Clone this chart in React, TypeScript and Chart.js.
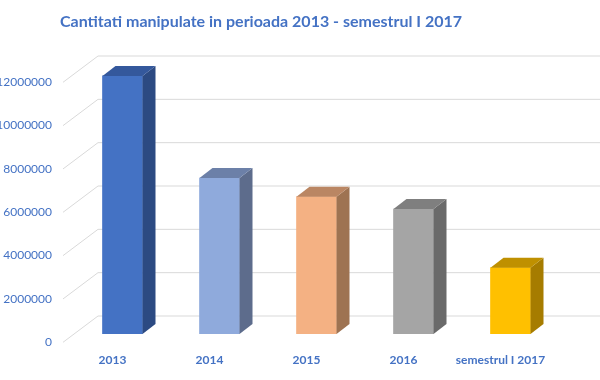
import React, { useEffect, useRef } from 'react';
import { Chart, registerables } from 'chart.js';

Chart.register(...registerables);

const categories = ['2013', '2014', '2015', '2016', 'semestrul I 2017'];
const quantities = [11910000, 7200000, 6340000, 5770000, 3060000];
const yTickLabels = ['0', '2000000', '4000000', '6000000', '8000000', '10000000', '12000000'];
const titleText = 'Cantitati manipulate in perioada 2013 - semestrul I 2017';

const frontColors = ['#4472C4', '#8FAADC', '#F4B183', '#A5A5A5', '#FFC000'];
const sideColors = ['#2C4A82', '#5D6C8C', '#9E7352', '#6A6A6A', '#A67C00'];
const topColors = ['#34589C', '#6C80A8', '#BA8663', '#7F7F7F', '#BF9000'];

const BLUE = '#4472C4';
const FONT = 'Lato, "Open Sans", sans-serif';
const DX = 13;
const DY = 10;

const wallPlugin = {
  id: 'wall',
  beforeDatasetsDraw(chart: any) {
    const ctx = chart.ctx;
    const y = chart.scales.y;
    ctx.save();
    ctx.strokeStyle = '#D9D9D9';
    ctx.lineWidth = 1;
    y.ticks.forEach((t: any) => {
      const py = y.getPixelForValue(t.value);
      ctx.beginPath();
      ctx.moveTo(63, py + 8.3);
      ctx.lineTo(98, py - 18);
      ctx.lineTo(chart.width, py - 18);
      ctx.stroke();
    });
    ctx.restore();
  },
};

const box3dPlugin = {
  id: 'box3d',
  afterDatasetsDraw(chart: any) {
    const ctx = chart.ctx;
    const meta = chart.getDatasetMeta(0);
    ctx.save();
    meta.data.forEach((bar: any, i: number) => {
      const p = bar.getProps(['x', 'y', 'base', 'width'], true);
      const l = p.x - p.width / 2;
      const r = p.x + p.width / 2;
      const t = Math.min(p.y, p.base);
      const b = Math.max(p.y, p.base);
      ctx.fillStyle = sideColors[i];
      ctx.beginPath();
      ctx.moveTo(r, t);
      ctx.lineTo(r + DX, t - DY);
      ctx.lineTo(r + DX, b - DY);
      ctx.lineTo(r, b);
      ctx.closePath();
      ctx.fill();
      ctx.fillStyle = topColors[i];
      ctx.beginPath();
      ctx.moveTo(l, t);
      ctx.lineTo(l + DX, t - DY);
      ctx.lineTo(r + DX, t - DY);
      ctx.lineTo(r, t);
      ctx.closePath();
      ctx.fill();
    });
    ctx.restore();
  },
};

const titlePlugin = {
  id: 'customTitle',
  afterDraw(chart: any) {
    const ctx = chart.ctx;
    ctx.save();
    ctx.font = `bold 16px ${FONT}`;
    ctx.fillStyle = BLUE;
    ctx.textAlign = 'center';
    ctx.textBaseline = 'middle';
    ctx.fillText(titleText, 261, 22);
    ctx.restore();
  },
};

export default function App() {
  const ref = useRef<HTMLCanvasElement | null>(null);

  useEffect(() => {
    if (!ref.current) return;
    const chart = new Chart(ref.current, {
      type: 'bar',
      data: {
        labels: categories,
        datasets: [
          {
            data: quantities,
            backgroundColor: frontColors,
            borderWidth: 0,
            barThickness: 40,
          },
        ],
      },
      options: {
        responsive: false,
        animation: false,
        layout: { padding: { top: 74, right: 41, bottom: 0, left: 0 } },
        plugins: {
          legend: { display: false },
          title: { display: false },
          tooltip: { enabled: false },
        },
        scales: {
          x: {
            grid: { display: false, drawTicks: false },
            border: { display: false },
            ticks: {
              color: BLUE,
              font: { family: FONT, size: 12, weight: 'bold' },
              padding: 19,
              labelOffset: -10,
              maxRotation: 0,
              autoSkip: false,
            },
            afterFit: (s: any) => {
              s.height = 46;
            },
          },
          y: {
            min: 0,
            max: 12000000,
            grid: { display: false, drawTicks: false },
            border: { display: false },
            ticks: {
              stepSize: 2000000,
              color: BLUE,
              font: { family: FONT, size: 12 },
              padding: 22,
              labelOffset: 8,
              callback: (_v: any, idx: number) => yTickLabels[idx],
            },
            afterFit: (s: any) => {
              s.width = 74;
            },
          },
        },
      },
      plugins: [wallPlugin, box3dPlugin, titlePlugin],
    });
    return () => chart.destroy();
  }, []);

  return (
    <div style={{ position: 'fixed', left: 0, top: 0, width: 600, height: 380, background: '#fff' }}>
      <canvas ref={ref} width={600} height={380} />
    </div>
  );
}
